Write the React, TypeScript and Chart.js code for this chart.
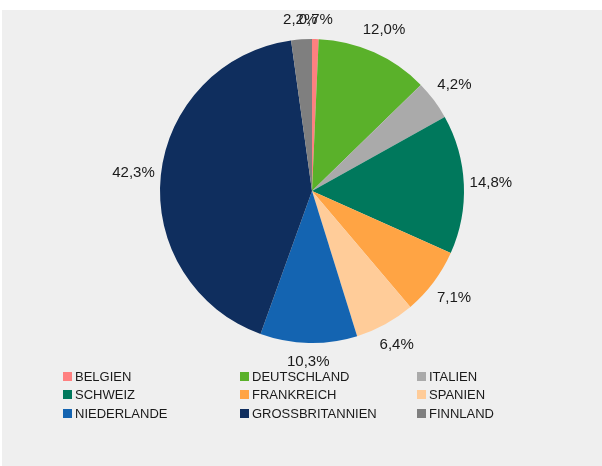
import React, { useEffect, useRef } from "react";
import { Chart, registerables } from "chart.js";

Chart.register(...registerables);

const categories = [
  "BELGIEN",
  "DEUTSCHLAND",
  "ITALIEN",
  "SCHWEIZ",
  "FRANKREICH",
  "SPANIEN",
  "NIEDERLANDE",
  "GROSSBRITANNIEN",
  "FINNLAND",
];
const shares = [0.7, 12.0, 4.2, 14.8, 7.1, 6.4, 10.3, 42.3, 2.2];
const colors = [
  "#ff8080",
  "#5ab12a",
  "#aaaaaa",
  "#00785c",
  "#ffa444",
  "#ffcc99",
  "#1464b1",
  "#0f2e5e",
  "#7f7f7f",
];

const FONT = "'Liberation Sans', Arial, sans-serif";

const fmt = (v: number) => v.toFixed(1).replace(".", ",") + "%";

const labelPlugin = {
  id: "outsideLabels",
  afterDatasetsDraw(chart: any) {
    const ctx = chart.ctx;
    const meta = chart.getDatasetMeta(0);
    ctx.save();
    ctx.font = `15px ${FONT}`;
    ctx.fillStyle = "#1a1a1a";
    ctx.textAlign = "center";
    ctx.textBaseline = "middle";
    meta.data.forEach((arc: any, i: number) => {
      const { x, y, startAngle, endAngle, outerRadius } = arc.getProps(
        ["x", "y", "startAngle", "endAngle", "outerRadius"],
        true
      );
      const mid = (startAngle + endAngle) / 2;
      const text = fmt(shares[i]);
      const w = ctx.measureText(text).width;
      const h = 15;
      const c = Math.cos(mid);
      const s = Math.sin(mid);
      const d = outerRadius + 11 + Math.abs(c) * (w * 0.37) + Math.abs(s) * (h / 2);
      ctx.fillText(text, x + c * d, y + s * d);
    });
    ctx.restore();
  },
};

export default function App() {
  const ref = useRef<HTMLCanvasElement | null>(null);

  useEffect(() => {
    if (!ref.current) return;
    const chart = new Chart(ref.current, {
      type: "pie",
      data: {
        labels: categories,
        datasets: [
          {
            data: shares,
            backgroundColor: colors,
            borderWidth: 0,
          },
        ],
      },
      options: {
        animation: false,
        responsive: false,
        maintainAspectRatio: false,
        layout: { padding: { left: 158, right: 138, top: 29, bottom: 123 } },
        plugins: {
          legend: { display: false },
          tooltip: { enabled: false },
        },
      },
      plugins: [labelPlugin],
    });
    return () => chart.destroy();
  }, []);

  return (
    <div
      style={{
        position: "absolute",
        left: 2,
        top: 10,
        width: 600,
        height: 456,
        background: "#efefef",
        fontFamily: FONT,
      }}
    >
      <canvas ref={ref} width={600} height={456} style={{ display: "block" }} />
      {categories.map((c, i) => {
        const col = i % 3;
        const row = Math.floor(i / 3);
        return (
          <div
            key={c}
            style={{
              position: "absolute",
              left: 61 + col * 177,
              top: 357 + row * 18.7,
              height: 18,
              display: "flex",
              alignItems: "center",
              fontSize: 13,
              color: "#1a1a1a",
              whiteSpace: "nowrap",
            }}
          >
            <span
              style={{
                display: "inline-block",
                width: 9,
                height: 9,
                background: colors[i],
                marginRight: 3,
              }}
            />
            {c}
          </div>
        );
      })}
    </div>
  );
}
